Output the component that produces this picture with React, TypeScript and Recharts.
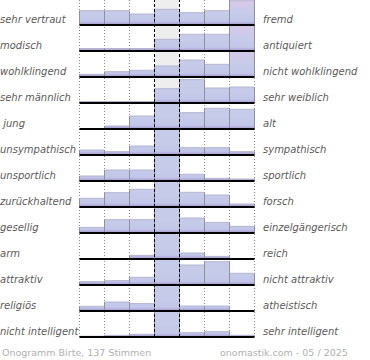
import { ComposedChart, Bar, Line, XAxis, YAxis, ReferenceLine, ReferenceArea } from "recharts";

const columns = ["1", "2", "3", "4", "5", "6", "7"];

const leftLabels = [
  "sehr vertraut", "modisch", "wohlklingend", "sehr männlich", " jung", "unsympathisch",
  "unsportlich", "zurückhaltend", "gesellig", "arm", "attraktiv", "religiös", "nicht intelligent",
];
const rightLabels = [
  "fremd", "antiquiert", "nicht wohlklingend", "sehr weiblich", "alt", "sympathisch",
  "sportlich", "forsch", "einzelgängerisch", "reich", "nicht attraktiv", "atheistisch", "sehr intelligent",
];

// share of votes per scale step (1..7)
const vertraut = [14.3, 14.3, 11, 15.7, 12.3, 14.3, 24.3];
const modisch = [2.5, 2.5, 2.5, 11.7, 16.7, 16.7, 30];
const wohlklingend = [2.7, 5.3, 6.7, 11, 17, 12.7, 30];
const maennlich = [1.5, 1.5, 1.5, 14.3, 23.4, 15, 16];
const jung = [0, 3, 13, 30, 16.3, 20.7, 19.7];
const unsympathisch = [5, 3.3, 9, 30, 7.3, 7.3, 3.3];
const unsportlich = [5, 11, 11, 30, 6.7, 2.7, 2];
const zurueckhaltend = [8.7, 14.3, 17.7, 30, 14.7, 12, 3];
const gesellig = [5.6, 13.3, 13.3, 30, 15, 10.6, 6.6];
const arm = [0, 0, 3.6, 30, 6, 2.6, 0];
const attraktiv = [3.3, 4.3, 7.7, 30, 20, 23.3, 11.7];
const religioes = [4.7, 9, 7.4, 30, 5, 5, 0];
const intelligent = [0.8, 1.7, 2.7, 30, 4.3, 5.3, 1.7];

const rowValues = [
  vertraut, modisch, wohlklingend, maennlich, jung, unsympathisch, unsportlich,
  zurueckhaltend, gesellig, arm, attraktiv, religioes, intelligent,
];

const gridSteps = [0, 1, 2, 5, 6, 7];
const middleSteps = [3, 4];

const ROW_H = 26;
const FIRST_BASE = 25;
const PLOT_LEFT = 79;
const PLOT_W = 177;
const topTint = (i: number) => (i === 0 ? "#dcc8e8" : i === 1 ? "#d8c8e8" : i === 2 ? "#d4c8e8" : "#c6cbea");

function BarShape(props: any) {
  const { x, y, width, height, fill } = props;
  if (!height || height <= 0) return null;
  return (
    <g>
      <rect x={x} y={y} width={width} height={height} fill={fill} />
      <line x1={x} x2={x + width} y1={y} y2={y} stroke="#b4b6d0" />
      <line x1={x} x2={x} y1={y} y2={y + height} stroke="#909098" />
      <line x1={x + width} x2={x + width} y1={y} y2={y + height} stroke="#909098" />
    </g>
  );
}

function Row({ values, index }: { values: number[]; index: number }) {
  const data = columns.map((col, j) => ({ col, v: values[j] }));
  const base = FIRST_BASE + index * ROW_H;
  const gid = `row-fill-${index}`;
  return (
    <div style={{ position: "absolute", left: PLOT_LEFT, top: base - ROW_H, zIndex: 40 - index }}>
      <ComposedChart
        width={PLOT_W}
        height={ROW_H + 2}
        data={data}
        margin={{ top: 0, right: 1.5, bottom: 2, left: 0.5 }}
        barCategoryGap={0}
        style={{ overflow: "visible" }}
      >
        <defs>
          <linearGradient id={gid} gradientUnits="userSpaceOnUse" x1="0" y1="0" x2="0" y2={ROW_H}>
            <stop offset="0%" stopColor={topTint(index)} />
            <stop offset="55%" stopColor="#c6cbea" />
            <stop offset="86%" stopColor="#c2c6e8" />
            <stop offset="93%" stopColor="#b4aedb" />
            <stop offset="100%" stopColor="#9c8ac6" />
          </linearGradient>
        </defs>
        <XAxis dataKey="col" hide />
        <YAxis hide domain={[0, ROW_H]} allowDataOverflow />
        <Bar dataKey="v" fill={`url(#${gid})`} shape={BarShape} isAnimationActive={false} />
        <ReferenceLine y={0} stroke="#000" strokeWidth={2} />
      </ComposedChart>
    </div>
  );
}

const labelStyle: React.CSSProperties = {
  position: "absolute",
  fontFamily: "'DejaVu Sans', sans-serif",
  fontStyle: "italic",
  fontSize: 10,
  lineHeight: "12px",
  color: "#5a5a5a",
  whiteSpace: "pre",
};

const footStyle: React.CSSProperties = {
  position: "absolute",
  fontFamily: "'DejaVu Sans', sans-serif",
  fontSize: 9.5,
  lineHeight: "11px",
  color: "#b0b0b0",
  whiteSpace: "pre",
  top: 347,
};

const bgData = columns.map((col, j) => ({ step: j, zero: 0 }));
const lastBase = FIRST_BASE + (rowValues.length - 1) * ROW_H;

function Frame({ children }: { children: React.ReactNode }) {
  return (
    <ComposedChart width={PLOT_W} height={lastBase} data={bgData} margin={{ top: 0, right: 1.5, bottom: 0, left: 0.5 }}>
      <XAxis xAxisId="n" type="number" dataKey="step" domain={[0, 7]} hide allowDataOverflow />
      <YAxis type="number" domain={[0, 1]} hide allowDataOverflow />
      <Line xAxisId="n" dataKey="zero" stroke="none" dot={false} activeDot={false} isAnimationActive={false} />
      {children}
    </ComposedChart>
  );
}

export default function App() {
  return (
    <div style={{ position: "absolute", left: 0, top: 0, width: 370, height: 360, overflow: "hidden", background: "#fff" }}>
      <div style={{ position: "absolute", left: PLOT_LEFT, top: 0, zIndex: 1 }}>
        <Frame>
          <ReferenceArea xAxisId="n" x1={3} x2={4} fill="#eeeeee" fillOpacity={1} stroke="none" />
          {gridSteps.map((s) => (
            <ReferenceLine key={s} xAxisId="n" x={s} stroke="#8a8a8a" strokeDasharray="1 2" />
          ))}
        </Frame>
      </div>

      {rowValues.map((vals, i) => (
        <Row key={i} values={vals} index={i} />
      ))}

      <div style={{ position: "absolute", left: PLOT_LEFT, top: 0, zIndex: 100, pointerEvents: "none" }}>
        <Frame>
          {middleSteps.map((s) => (
            <ReferenceLine key={s} xAxisId="n" x={s} stroke="#000" strokeDasharray="3 2" />
          ))}
        </Frame>
      </div>

      {leftLabels.map((t, i) => (
        <div key={"l" + i} style={{ ...labelStyle, left: 0, top: FIRST_BASE + i * ROW_H - 11 }}>
          {t}
        </div>
      ))}
      {rightLabels.map((t, i) => (
        <div key={"r" + i} style={{ ...labelStyle, left: 263, top: FIRST_BASE + i * ROW_H - 11 }}>
          {t}
        </div>
      ))}

      <div style={{ ...footStyle, left: 2 }}>Onogramm Birte, 137 Stimmen</div>
      <div style={{ ...footStyle, left: 220 }}>onomastik.com - 05 / 2025</div>
    </div>
  );
}
